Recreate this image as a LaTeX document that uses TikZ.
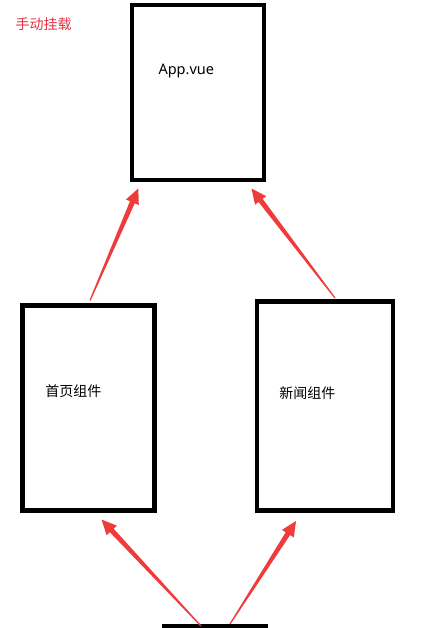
\documentclass[tikz,border=0pt]{standalone}
\usepackage{fontspec}
\setmainfont{Noto Sans}
\newfontfamily\cjk{Noto Sans CJK SC}
\usetikzlibrary{calc}
\definecolor{arrowred}{RGB}{238,59,59}
\definecolor{labelred}{RGB}{225,55,65}
\tikzset{
  box/.style={draw=black, line width=4.5pt, fill=white, inner sep=0pt, outer sep=0pt},
  lbl/.style={inner sep=0pt, font=\cjk\fontsize{14}{16}\selectfont},
  applbl/.style={inner sep=0pt, font=\fontsize{14.5}{17}\selectfont},
}
\newcommand\taper[2]{%
  \coordinate (hb) at ($(#2)!15pt!(#1)$);
  \fill[arrowred] ($(#1)!0.6pt!90:(#2)$) -- ($(hb)!2.6pt!90:(#2)$) -- ($(hb)!7pt!90:(#2)$) -- (#2)
    -- ($(hb)!7pt!-90:(#2)$) -- ($(hb)!2.6pt!-90:(#2)$) -- ($(#1)!0.6pt!-90:(#2)$) -- cycle;}
\begin{document}
\begin{tikzpicture}[x=1pt,y=-1pt]
\useasboundingbox (0,0) rectangle (430,628);
\clip (0,0) rectangle (430,628);
\fill[white] (0,0) rectangle (430,628);
% boxes
\node[box, minimum width=132pt, minimum height=175pt] (app) at (198,92.5) {};
\node[box, minimum width=132pt, minimum height=205pt] (home) at (88.5,408) {};
\node[box, minimum width=136pt, minimum height=209pt] (news) at (325,406) {};
\node[box, minimum width=102pt, minimum height=108pt] (main) at (215,680) {};
% labels
\node[applbl, anchor=base] (applabel) at (186.3,74.3) {App.vue};
\node[lbl] (homelabel) at (73.3,391) {首页组件};
\node[lbl] (newslabel) at (307.3,393) {新闻组件};
\node[lbl, text=labelred] (mount) at (43.7,24) {手动挂载};
% arrow ends
\coordinate (t1) at (90,300.5);  \coordinate (h1) at (138.3,188.5);
\coordinate (t2) at (335,298);   \coordinate (h2) at (251.5,188.5);
\coordinate (t3) at (201,626);   \coordinate (h3) at (101.5,519.5);
\coordinate (t4) at (230,624);   \coordinate (h4) at (296,521);
\taper{t1}{h1}
\taper{t2}{h2}
\taper{t3}{h3}
\taper{t4}{h4}
\end{tikzpicture}
\end{document}
